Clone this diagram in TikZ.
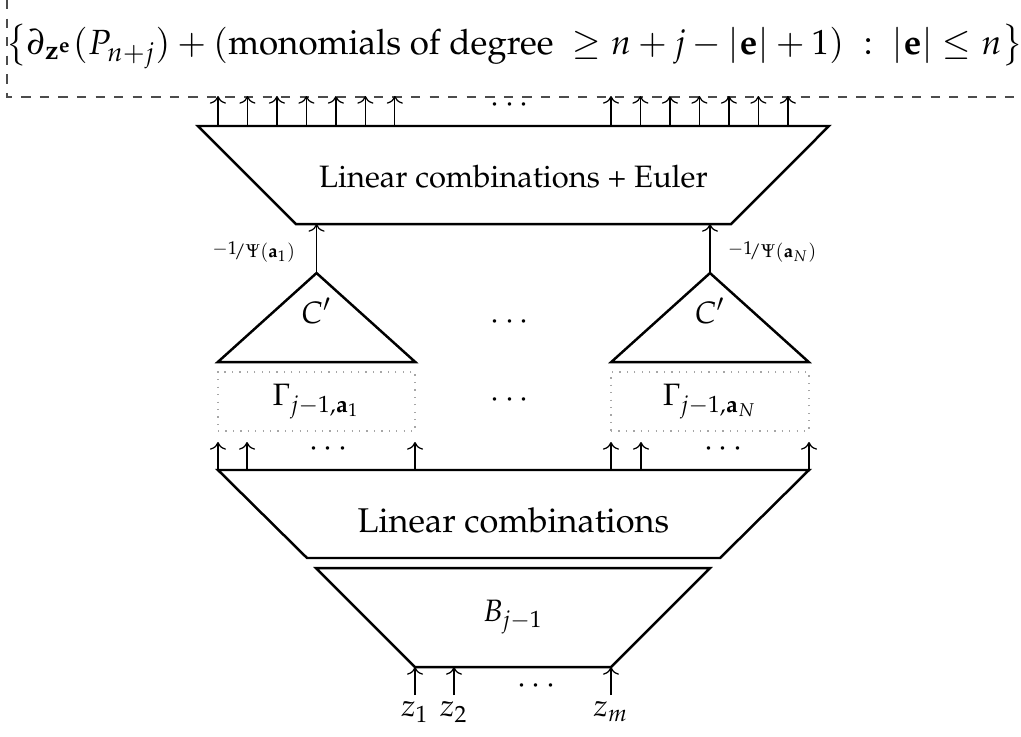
\documentclass[tikz,border=0pt]{standalone}
\usepackage[T1]{fontenc}
\usepackage{amsmath,amssymb}
\usepackage{mathpazo}
\usetikzlibrary{arrows.meta,positioning}

\tikzset{
  block/.style={draw, thick, line join=miter},
  port/.style={->, thin},
  gridbox/.style={draw=gray!70, dotted, thin, inner sep=0pt},
  lbl/.style={font=\fontsize{6}{7}\selectfont, inner sep=1pt},
}

\begin{document}
\begin{tikzpicture}
		\useasboundingbox (0,0) rectangle (11.602,8.364);
		% output set, cut off by the dashed frame
		\node[font=\fontsize{11.3}{13}\selectfont, inner sep=0pt] (out) at (5.845,7.84) {$\bigl\{\partial_{\mathbf{z}^{\mathbf{e}}}(P_{n+j}) + (\text{monomials of degree } \geq n+j-|\mathbf{e}|+1) \;:\; |\mathbf{e}| \leq n\bigr\}$};
		\draw[dashed, black!70] (0.08,8.364) -- (0.08,7.261) -- (11.602,7.261);
		
		% TOP: linear combinations + Euler
		\coordinate (lce-tl) at (2.25,6.932);
		\coordinate (lce-tr) at (9.42,6.932);
		\coordinate (lce-br) at (8.307,5.818);
		\coordinate (lce-bl) at (3.364,5.818);
		\draw[block] (lce-tl) -- (lce-tr) -- (lce-br) -- (lce-bl) -- cycle;
		\node (lce) at (5.835,6.352) {Linear combinations + Euler};
		\foreach \k in {0,...,6} {
			\coordinate (oa\k) at ({2.477+0.335*\k},6.932);
			\coordinate (ot\k) at ({2.477+0.335*\k},7.273);
			\draw[port] (oa\k) -- (ot\k);
			\coordinate (ob\k) at ({6.943+0.335*\k},6.932);
			\coordinate (ou\k) at ({6.943+0.335*\k},7.273);
			\draw[port] (ob\k) -- (ou\k);
		}
		\node (odots) at (5.82,7.17) {$\cdots$};
		
		% MIDDLE: the C' blocks on top of the Gamma's
		\coordinate (lce-b1) at (3.597,5.818);
		\coordinate (lce-bN) at (8.068,5.818);
		\foreach \name/\x in {c1/3.597, cN/8.068} {
			\coordinate (\name-top) at (\x,5.261);
			\draw[block] (\name-top) -- (\x+1.122,4.25) -- (\x-1.122,4.25) -- cycle;
			\node (\name) at (\x,4.83) {$C'$};
		}
		\draw[port] (c1-top) -- (lce-b1) node[pos=0.43, left=0.2cm, lbl] {$\raisebox{0.3ex}{$-1$}\!/\Psi(\mathbf{a}_1)$};
		\draw[port] (cN-top) -- (lce-bN) node[pos=0.43, right=0.16cm, lbl] {$\raisebox{0.3ex}{$-1$}\!/\Psi(\mathbf{a}_N)$};
		\node (cdots) at (5.82,4.705) {$\cdots$};
		
		\node[gridbox, minimum width=2.239cm, minimum height=0.67cm] (g1) at (3.597,3.801) {$\Gamma_{j-1,\mathbf{a}_1}$};
		\node[gridbox, minimum width=2.25cm, minimum height=0.67cm] (gN) at (8.068,3.801) {$\Gamma_{j-1,\mathbf{a}_N}$};
		\node (gdots) at (5.82,3.81) {$\cdots$};
		
		% BOTTOM: linear combinations
		\coordinate (lc-tl) at (2.477,3.023);
		\coordinate (lc-tr) at (9.193,3.023);
		\coordinate (lc-br) at (8.182,2.023);
		\coordinate (lc-bl) at (3.489,2.023);
		\draw[block] (lc-tl) -- (lc-tr) -- (lc-br) -- (lc-bl) -- cycle;
		\node[font=\fontsize{11.1}{13}\selectfont] (lc) at (5.835,2.455) {Linear combinations};
		\foreach \x [count=\k] in {2.477, 2.807, 4.716, 6.943, 7.284, 9.193} {
			\coordinate (la\k) at (\x,3.023);
			\coordinate (lt\k) at (\x,3.341);
			\draw[port] (la\k) -- (lt\k);
		}
		\node (ldots1) at (3.761,3.261) {$\cdots$};
		\node (ldotsN) at (8.25,3.261) {$\cdots$};
		
		% B_{j-1} and its inputs
		\coordinate (b-tl) at (3.591,1.909);
		\coordinate (b-tr) at (8.068,1.909);
		\coordinate (b-br) at (6.943,0.784);
		\coordinate (b-bl) at (4.716,0.784);
		\draw[block] (b-tl) -- (b-tr) -- (b-br) -- (b-bl) -- cycle;
		\node (b) at (5.83,1.352) {$B_{j-1}$};
		\foreach \x/\lab [count=\k] in {4.716/z_1, 5.159/z_2, 6.943/z_m} {
			\coordinate (zb\k) at (\x,0.466);
			\coordinate (zt\k) at (\x,0.784);
			\draw[port] (zb\k) -- (zt\k);
			\node[below=1pt of zb\k, inner sep=1pt] (z\k) {$\lab$};
		}
		\node (zdots) at (6.125,0.568) {$\cdots$};
	\end{tikzpicture}
\end{document}
